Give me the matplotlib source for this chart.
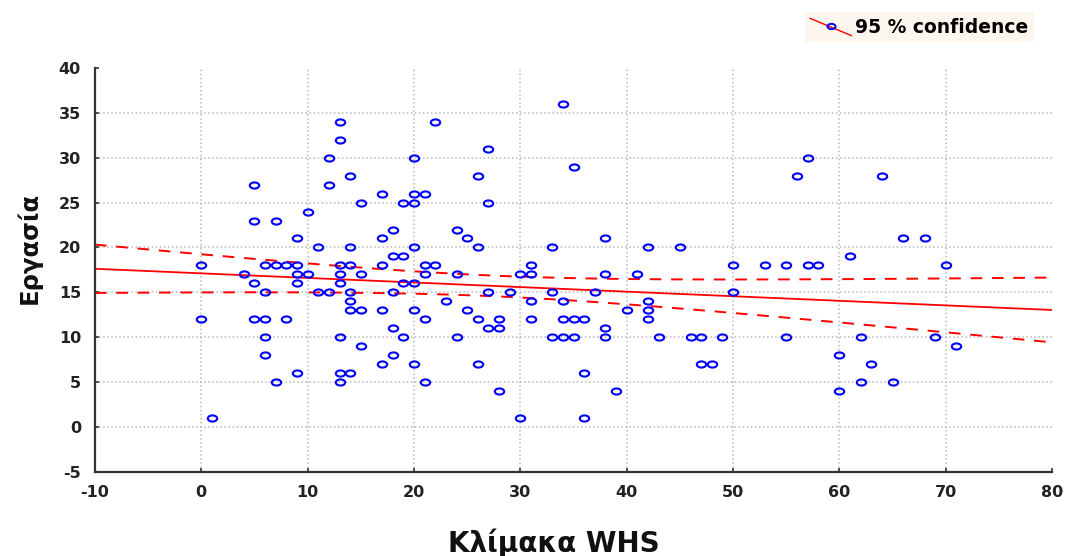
import numpy as np
import matplotlib
matplotlib.use('Agg')
import matplotlib.pyplot as plt
from matplotlib.lines import Line2D
from matplotlib.markers import MarkerStyle
from matplotlib.transforms import Affine2D
from matplotlib.legend_handler import HandlerBase


# scores, one list of y values per x value
whs_values = [0, 1, 4, 5, 6, 7, 8, 9, 10, 11, 12, 13, 14, 15, 17, 18, 19, 20,
              21, 22, 23, 24, 25, 26, 27, 28, 29, 30, 31, 33, 34, 35, 36, 37,
              38, 39, 40, 41, 42, 43, 45, 46, 47, 48, 49, 50, 53, 55, 56, 57,
              58, 60, 61, 62, 63, 64, 65, 66, 68, 69, 70, 71]
work_values = [
	[18, 12], [1], [17], [27, 23, 16, 12], [18, 15, 12, 10, 8], [23, 18, 5],
	[18, 12], [21, 18, 17, 16, 6], [24, 17], [20, 15], [30, 27, 15],
	[34, 32, 18, 17, 16, 10, 6, 5], [28, 20, 18, 15, 14, 13, 6], [25, 17, 13, 9],
	[26, 21, 18, 13, 7], [22, 19, 15, 11, 8], [25, 19, 16, 10],
	[30, 26, 25, 20, 16, 13, 7], [26, 18, 17, 12, 5], [34, 18], [14],
	[22, 17, 10], [21, 13], [28, 20, 12, 7], [31, 25, 15, 11], [12, 11, 4],
	[15], [17, 1], [18, 17, 14, 12], [20, 15, 10], [36, 14, 12, 10],
	[29, 12, 10], [12, 6, 1], [15], [21, 17, 11, 10], [4], [13], [17],
	[20, 14, 13, 12], [10], [20], [10], [10, 7], [7], [10], [18, 15], [18],
	[18, 10], [28], [30, 18], [18], [8, 4], [19], [10, 5], [7], [28], [5],
	[21], [21], [10], [18], [9]]

x_label = 'Κλίμακα WHS'
y_label = 'Εργασία'
legend_label = '95 % confidence'

plt.rcParams['axes.unicode_minus'] = False

# flatten into point arrays
x = np.array([xv for xv, ys in zip(whs_values, work_values) for _ in ys], dtype=float)
y = np.array([yv for ys in work_values for yv in ys], dtype=float)

# least squares fit and 95% confidence band of the mean
n = len(x)
slope, intercept = np.polyfit(x, y, 1)
resid = y - (intercept + slope * x)
s = np.sqrt(np.sum(resid ** 2) / (n - 2))
x_mean = x.mean()
sxx = np.sum((x - x_mean) ** 2)
t_crit = 1.975
xs = np.linspace(-10, 80, 200)
fit = intercept + slope * xs
half = t_crit * s * np.sqrt(1 / n + (xs - x_mean) ** 2 / sxx)

# the source picture is stretched sideways, so the circles are flat ellipses
ring = MarkerStyle('o', transform = Affine2D().scale(1.3, 0.85))


# legend key: red diagonal line crossed by an open blue circle
class DiagonalHandler(HandlerBase) :
	def create_artists(self, legend, orig_handle, xdescent, ydescent, width, height, fontsize, trans) :
		line = Line2D([-xdescent, width - xdescent], [height - ydescent + 1, -ydescent - 2],
		              color = 'red', linewidth = 1, transform = trans)
		dot = Line2D([width / 2 - xdescent], [height / 2 - ydescent], marker = ring, markersize = 4.5,
		             markerfacecolor = 'none', markeredgecolor = 'blue', markeredgewidth = 1.4,
		             linestyle = 'none', transform = trans)
		return [line, dot]


fig = plt.figure(figsize = (10.66, 5.56), dpi = 100)
ax = fig.add_axes([0.089, 0.151, 0.898, 0.727])

ax.plot(x, y, linestyle = 'none', marker = ring, markersize = 5.2, markerfacecolor = 'none',
        markeredgecolor = 'blue', markeredgewidth = 1.5, zorder = 3)
ax.plot(xs, fit, color = 'red', linewidth = 1.3, zorder = 2)
ax.plot(xs, fit + half, color = 'red', linewidth = 1.4, linestyle = (0, (6, 5)), zorder = 2)
ax.plot(xs, fit - half, color = 'red', linewidth = 1.4, linestyle = (0, (6, 5)), zorder = 2)

ax.set_xlim(-10, 80)
ax.set_ylim(-5, 40)
ax.set_xticks(np.arange(-10, 81, 10))
ax.set_yticks(np.arange(-5, 41, 5))

ax.grid(True, color = '#b8b8b8', linestyle = ':', linewidth = 1.1)
ax.set_axisbelow(True)
for ticks in (ax.xaxis.get_major_ticks(), ax.yaxis.get_major_ticks()) :
	ticks[0].gridline.set_visible(False)
	ticks[-1].gridline.set_visible(False)

for side in ('top', 'right') :
	ax.spines[side].set_visible(False)
for side in ('left', 'bottom') :
	ax.spines[side].set_color('#333333')
	ax.spines[side].set_linewidth(1.6)

ax.tick_params(direction = 'in', length = 3, width = 1.2, color = '#333333',
               labelsize = 11.5, labelcolor = '#222222')
ax.tick_params(axis = 'x', pad = 9)
ax.tick_params(axis = 'y', pad = 10)
for lab in ax.get_xticklabels() + ax.get_yticklabels() :
	lab.set_fontweight('bold')
	lab.set_family('DejaVu Sans')

ax.set_xlabel(x_label, fontsize = 20, fontweight = 'bold', family = 'DejaVu Sans', color = '#111111')
ax.set_ylabel(y_label, fontsize = 17.5, fontweight = 'bold', family = 'DejaVu Sans', color = '#111111')
ax.xaxis.set_label_coords(0.479, -0.14)
ax.yaxis.set_label_coords(-0.055, 0.554)

key = Line2D([], [])
fig.legend([key], [legend_label], handler_map = {Line2D : DiagonalHandler()},
           loc = 'upper right', bbox_to_anchor = (0.97, 0.978), frameon = True,
           facecolor = '#fcf6ee', edgecolor = 'none', fancybox = False, framealpha = 1,
           prop = {'family' : 'DejaVu Sans', 'weight' : 'bold', 'size' : 13.5},
           handlelength = 2.2, handletextpad = 0.2, borderpad = 0.3, borderaxespad = 0)

fig.savefig('out.png', dpi = 100)
